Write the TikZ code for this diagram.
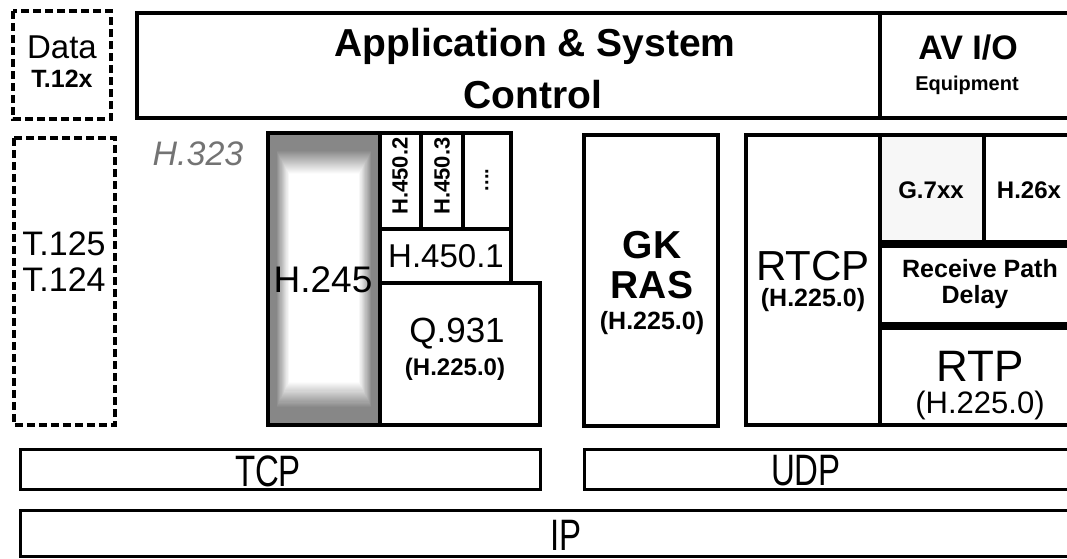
\documentclass[tikz,border=0pt]{standalone}
\usepackage{fontspec}
\setmainfont{Liberation Sans}
\usetikzlibrary{positioning}
\newcommand\Fs[1]{\fontsize{#1}{#1}\selectfont}
\tikzset{
  layer/.style={
    draw,
    line width=1.6pt,
    fill=white
  },
  dashbox/.style={
    draw,
    line width=2pt,
    dash pattern=on 4pt off 2pt
  },
  lbl/.style={
    inner sep=0pt,
    align=center
  },
  narrow/.style={
    inner sep=0pt,
    xscale=0.75,
    transform shape,
    font=\Fs{22}
  }
}

\begin{document}
\begin{tikzpicture}[x=0.5pt,y=-0.5pt]
        \useasboundingbox[fill=white] (0,0) rectangle (1067,558);

        % top row
        \draw[dashbox] (13,11) rectangle (111,119);
        \node[lbl, font=\Fs{16.5}] (data) at (62,47) {Data};
        \node[lbl, font=\Fs{12.5}\bfseries] (t12x) at (62,79) {T.12x};

        \draw[layer] (137,13) rectangle (880,118);
        \draw[layer] (880,13) rectangle (1075,118);
        \node[lbl, font=\Fs{19.5}\bfseries] (app) at (535,46) {Application \& System};
        \node[lbl, font=\Fs{19.5}\bfseries] (ctrl) at (533,95) {Control};
        \node[lbl, font=\Fs{17}\bfseries] (avio) at (968,48) {AV I/O};
        \node[lbl, font=\Fs{10}\bfseries] (equip) at (967,85) {Equipment};

        % T.120 stack
        \draw[dashbox] (14,138) rectangle (115,425);
        \node[lbl, font=\Fs{17}] (t125) at (64,244) {T.125};
        \node[lbl, font=\Fs{17}] (t124) at (64,280) {T.124};

        \node[lbl, font=\Fs{17}\itshape, text=black!55] (h323) at (198,154) {H.323};

        % H.323 signalling
        \fill[black!47] (268,133) rectangle (380,425);
        \foreach \i in {1,...,24}{
          \pgfmathtruncatemacro\k{47-47*\i/24}
          \fill[black!\k] (276+0.55*\i,150+1.0*\i) rectangle (372-0.55*\i,408-1.1*\i);
        }
        \draw[line width=2pt] (268,133) rectangle (380,425);
        \node[lbl, font=\Fs{18.5}] (h245) at (323,280) {H.245};

        \draw[layer] (380,133) rectangle (421,229);
        \draw[layer] (421,133) rectangle (463,229);
        \draw[layer] (463,133) rectangle (511,229);
        \node[lbl, rotate=90, font=\Fs{11}\bfseries] (h4502) at (400,176) {H.450.2};
        \node[lbl, rotate=90, font=\Fs{11}\bfseries] (h4503) at (442,176) {H.450.3};
        \node[lbl, rotate=90, font=\Fs{10}\bfseries] (more) at (487,180) {....};

        \draw[layer] (380,229) rectangle (511,283);
        \node[lbl, font=\Fs{16.5}] (h4501) at (446,256) {H.450.1};

        \draw[layer] (380,283) rectangle (540,425);
        \node[lbl, font=\Fs{17.5}] (q931) at (457,334) {Q.931};
        \node[lbl, font=\Fs{12}\bfseries] (q931h) at (455,369) {(H.225.0)};
        \draw[line width=2pt] (268,133) -- (511,133) -- (511,283) -- (540,283)
          -- (540,425) -- (268,425) -- cycle;

        % RAS
        \draw[layer] (584,135) rectangle (718,426);
        \node[lbl, font=\Fs{19.5}\bfseries] (gk) at (652,245) {GK};
        \node[lbl, font=\Fs{19.5}\bfseries] (ras) at (652,285) {RAS};
        \node[lbl, font=\Fs{12.5}\bfseries] (rash) at (652,323) {(H.225.0)};

        % media
        \draw[layer] (746,135) rectangle (880,425);
        \node[lbl, font=\Fs{21}] (rtcp) at (813,266) {RTCP};
        \node[lbl, font=\Fs{12.5}\bfseries] (rtcph) at (813,300) {(H.225.0)};

        \draw[layer, fill=black!3] (880,135) rectangle (984,242);
        \draw[layer] (984,135) rectangle (1075,242);
        \node[lbl, font=\Fs{12}\bfseries] (g7xx) at (931,190) {G.7xx};
        \node[lbl, font=\Fs{12}\bfseries] (h26x) at (1029,190) {H.26x};

        \draw[layer] (880,246) rectangle (1075,324);
        \node[lbl, font=\Fs{12.5}\bfseries] (rpd) at (980,269) {Receive Path};
        \node[lbl, font=\Fs{12.5}\bfseries] (delay) at (975,297) {Delay};

        \draw[layer] (880,328) rectangle (1075,425);
        \node[lbl, font=\Fs{22}] (rtp) at (980,366) {RTP};
        \node[lbl, font=\Fs{15.5}] (rtph) at (980,405) {(H.225.0)};

        % transport
        \draw[layer, line width=1.5pt] (20,449) rectangle (540,489);
        \node[narrow] (tcp) at (268,471) {TCP};
        \draw[layer, line width=1.5pt] (584,449) rectangle (1075,489);
        \node[narrow] (udp) at (806,471) {UDP};

        \draw[layer, line width=1.5pt] (20,510) rectangle (1075,556);
        \node[narrow] (ip) at (566,535) {IP};
\end{tikzpicture}
\end{document}
